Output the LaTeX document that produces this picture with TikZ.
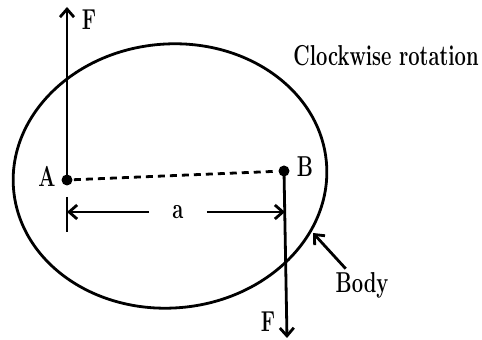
\documentclass[tikz,border=0pt]{standalone}
\usepackage{tikz}
\usetikzlibrary{arrows.meta,positioning}
\newcommand{\narrowlbl}[1]{\scalebox{0.7}[1]{#1}}

\begin{document}
\begin{tikzpicture}[x=0.5pt,y=-0.5pt,>={Straight Barb[length=4pt,width=7pt]},line width=1.4pt,dot/.style={circle,fill=black,inner sep=0pt,minimum size=5.5pt},lbl/.style={font=\Large\bfseries,inner sep=0pt}]
\useasboundingbox (0,0) rectangle (482,340);
\draw (170,176) ellipse [x radius=157,y radius=132,rotate=5];
\node[dot] (pt_a) at (67,180) {};
\node[dot] (pt_b) at (284,171) {};
\node[lbl] (lbl_a) at (47,176) {\narrowlbl{A}};
\node[lbl] (lbl_b) at (305,167) {\narrowlbl{B}};
\coordinate (f_top) at (67,7);
\coordinate (f_bot) at (287,338);
\draw[->] (pt_a.center) -- (f_top);
\draw[->] (pt_b.center) -- (f_bot);
\node[lbl] (lbl_ftop) at (89,20) {\narrowlbl{F}};
\node[lbl] (lbl_fbot) at (268,322) {\narrowlbl{F}};
\draw[dash pattern=on 3.5pt off 2.5pt] (pt_a) -- (pt_b);
\coordinate (tick_top) at (67,197);
\coordinate (tick_bot) at (67,232);
\draw (tick_top) -- (tick_bot);
\node[lbl,minimum width=27.5pt] (lbl_dist) at (178,212) {\narrowlbl{a}};
\coordinate (dist_l) at (67,212);
\coordinate (dist_r) at (285,212);
\draw[->] (lbl_dist.west) -- (dist_l);
\draw[->] (lbl_dist.east) -- (dist_r);
\node[lbl,inner sep=1pt] (lbl_body) at (362,285) {\narrowlbl{Body}};
\coordinate (body_tip) at (313,233);
\draw[->] (lbl_body.135) -- (body_tip);
\node[lbl] (lbl_rot) at (386,56) {\narrowlbl{Clockwise rotation}};
\end{tikzpicture}
\end{document}
